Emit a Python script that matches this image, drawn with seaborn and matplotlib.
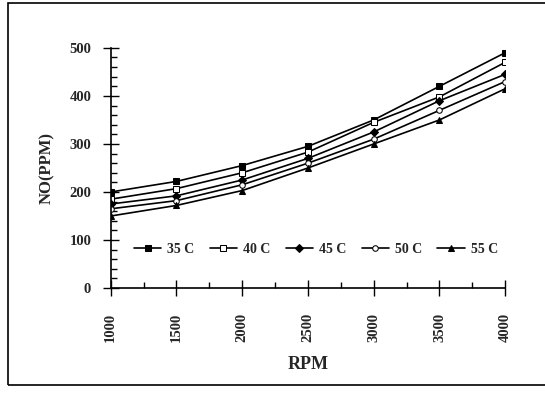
import matplotlib
matplotlib.use("Agg")
import matplotlib.pyplot as plt
import seaborn as sns
import pandas as pd
from matplotlib.ticker import MultipleLocator
from matplotlib.patches import Rectangle

rpm = [1000, 1500, 2000, 2500, 3000, 3500, 4000]
series_labels = ["35 C", "40 C", "45 C", "50 C", "55 C"]
no_35 = [200, 222, 255, 295, 350, 420, 490]
no_40 = [185, 207, 240, 283, 345, 398, 470]
no_45 = [175, 192, 225, 270, 325, 390, 445]
no_50 = [165, 182, 215, 260, 310, 370, 430]
no_55 = [150, 172, 203, 250, 300, 350, 415]
yticks = [0, 100, 200, 300, 400, 500]

values = [no_35, no_40, no_45, no_50, no_55]
df = pd.DataFrame({
    "RPM": rpm * len(series_labels),
    "NO": [v for s in values for v in s],
    "Temp": [lab for lab in series_labels for _ in rpm],
})

sns.set_theme(style="ticks")
plt.rcParams["font.family"] = ["Liberation Serif", "DejaVu Serif"]

fig = plt.figure(figsize=(5.45, 3.99), dpi=100)
ax = fig.add_axes([0.203, 0.278, 0.724, 0.602])

markers = {"35 C": "s", "40 C": "s", "45 C": "D", "50 C": "o", "55 C": "^"}
sns.lineplot(data=df, x="RPM", y="NO", hue="Temp", style="Temp",
             palette=["black"] * 5, markers=markers, dashes=False,
             linewidth=1.2, markersize=5, ax=ax, legend=False)

fills = {"35 C": "black", "40 C": "white", "45 C": "black", "50 C": "white", "55 C": "black"}
for line, lab in zip(ax.lines, series_labels):
    line.set_markerfacecolor(fills[lab])
    line.set_markeredgecolor("black")
    line.set_label(lab)
ax.lines[2].set_markersize(4)
ax.lines[3].set_markersize(4)

ax.set_xlim(1000, 4000)
ax.set_ylim(0, 500)
ax.set_xticks(rpm)
ax.set_xticklabels([str(r) for r in rpm], rotation=90, fontweight="bold", fontsize=10.5)
ax.set_yticks(yticks)
ax.set_yticklabels([str(t) for t in yticks], fontweight="bold", fontsize=10.5)
ax.xaxis.set_minor_locator(MultipleLocator(250))
ax.yaxis.set_minor_locator(MultipleLocator(20))
ax.tick_params(axis="both", which="major", direction="inout", length=12, width=1, color="black")
ax.tick_params(axis="x", which="major", pad=12)
ax.tick_params(axis="y", which="major", pad=8)
ax.tick_params(axis="x", which="minor", direction="in", length=4, width=1, color="black")
ax.tick_params(axis="y", which="minor", direction="in", length=4, width=1, color="black")
ax.set_xlabel("RPM", fontweight="bold", fontsize=13, labelpad=10)
ax.set_ylabel("NO(PPM)", fontweight="bold", fontsize=12, labelpad=10)
for s in ["top", "right"]:
    ax.spines[s].set_visible(False)
for s in ["left", "bottom"]:
    ax.spines[s].set_color("black")
    ax.spines[s].set_linewidth(1.2)
ax.set_facecolor("white")

leg = ax.legend(handles=ax.lines, labels=series_labels, loc="center",
                bbox_to_anchor=(0.52, 0.16), ncol=5, frameon=False,
                prop={"weight": "bold", "size": 10}, handlelength=2.0,
                columnspacing=1.1, handletextpad=0.4)

fig.patches.append(Rectangle((0.015, 0.035), 1.2, 0.958, transform=fig.transFigure,
                             fill=False, edgecolor="black", linewidth=1.2))

fig.savefig("out.png", dpi=100, facecolor="white")
